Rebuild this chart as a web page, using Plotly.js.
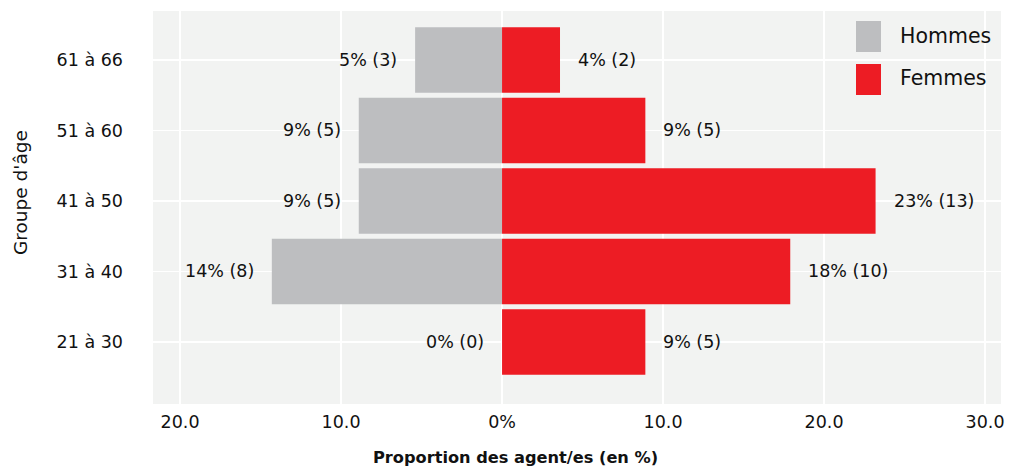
<!DOCTYPE html>
<html>
<head>
<meta charset="utf-8">
<script src="https://cdn.plot.ly/plotly-3.0.1.min.js"></script>
<style>html,body{margin:0;padding:0;background:#fff;}#chart{width:1013px;height:468px;}</style>
</head>
<body>
<div id="chart"></div>
<script>
// Data
var ageGroups = ['21 à 30', '31 à 40', '41 à 50', '51 à 60', '61 à 66'];
var seriesNames = ['Hommes', 'Femmes'];
var hommesPct = [0, 14.3, 8.9, 8.9, 5.4];
var femmesPct = [8.9, 17.9, 23.2, 8.9, 3.6];
var hommesLabels = ['0% (0)', '14% (8)', '9% (5)', '9% (5)', '5% (3)'];
var femmesLabels = ['9% (5)', '18% (10)', '23% (13)', '9% (5)', '4% (2)'];
var xTickVals = [-20, -10, 0, 10, 20, 30];
var xTickText = ['20.0', '10.0', '0%', '10.0', '20.0', '30.0'];
var xTitle = 'Proportion des agent/es (en %)';
var yTitle = "Groupe d'âge";

var GRAY = '#bdbec0', RED = '#ed1c24';
var FONT = '"DejaVu Sans", sans-serif';
var TXT = '#111111';

var traces = [
  {type: 'bar', orientation: 'h', name: seriesNames[0], y: ageGroups,
   x: hommesPct.map(function (v) { return -v; }),
   marker: {color: GRAY}, width: 0.93, hoverinfo: 'skip'},
  {type: 'bar', orientation: 'h', name: seriesNames[1], y: ageGroups,
   x: femmesPct, marker: {color: RED}, width: 0.93, hoverinfo: 'skip'}
];

var annotations = [];
ageGroups.forEach(function (g, i) {
  annotations.push({x: -hommesPct[i], y: g, xref: 'x', yref: 'y', text: hommesLabels[i],
    showarrow: false, xanchor: 'right', xshift: -16, font: {family: FONT, size: 17.5, color: TXT}});
  annotations.push({x: femmesPct[i], y: g, xref: 'x', yref: 'y', text: femmesLabels[i],
    showarrow: false, xanchor: 'left', xshift: 16, font: {family: FONT, size: 17.5, color: TXT}});
});
// axis titles
annotations.push({xref: 'paper', yref: 'paper', x: 0.427, y: -0.135, text: '<b>' + xTitle + '</b>',
  showarrow: false, xanchor: 'center', yanchor: 'middle', font: {family: FONT, size: 16.2, color: TXT}});
annotations.push({xref: 'paper', yref: 'paper', x: -0.157, y: 0.539, text: yTitle, textangle: -90,
  showarrow: false, xanchor: 'center', yanchor: 'middle', font: {family: FONT, size: 18.5, color: TXT}});
// custom legend labels
annotations.push({xref: 'paper', yref: 'paper', x: 0.8785, y: 0.9364, text: seriesNames[0],
  showarrow: false, xanchor: 'left', yanchor: 'middle', font: {family: FONT, size: 20.5, color: TXT}});
annotations.push({xref: 'paper', yref: 'paper', x: 0.8785, y: 0.8295, text: seriesNames[1],
  showarrow: false, xanchor: 'left', yanchor: 'middle', font: {family: FONT, size: 20.5, color: TXT}});

var shapes = [
  {type: 'rect', xref: 'paper', yref: 'paper', x0: 0.829, x1: 0.8585, y0: 0.8957, y1: 0.9746,
   fillcolor: GRAY, line: {width: 0}},
  {type: 'rect', xref: 'paper', yref: 'paper', x0: 0.829, x1: 0.8585, y0: 0.7863, y1: 0.8651,
   fillcolor: RED, line: {width: 0}}
];

var layout = {
  width: 1013, height: 468,
  margin: {l: 153, r: 12, t: 11, b: 64},
  paper_bgcolor: '#ffffff', plot_bgcolor: '#f2f3f2',
  barmode: 'overlay', showlegend: false,
  font: {family: FONT, size: 17.5, color: TXT},
  xaxis: {range: [-21.68, 30.99], tickvals: xTickVals, ticktext: xTickText,
    showgrid: true, gridcolor: '#ffffff', gridwidth: 1.2, zeroline: false,
    ticks: '', ticklabelstandoff: 5, tickfont: {family: FONT, size: 17.5, color: TXT},
    fixedrange: true},
  yaxis: {type: 'category', categoryorder: 'array', categoryarray: ageGroups,
    range: [-0.88, 4.695], showgrid: true, gridcolor: '#ffffff', gridwidth: 1.2,
    zeroline: false, ticks: '', ticklabelstandoff: 29,
    tickfont: {family: FONT, size: 17.5, color: TXT}, fixedrange: true},
  annotations: annotations,
  shapes: shapes
};

Plotly.newPlot('chart', traces, layout, {displayModeBar: false, staticPlot: true});
</script>
</body>
</html>
